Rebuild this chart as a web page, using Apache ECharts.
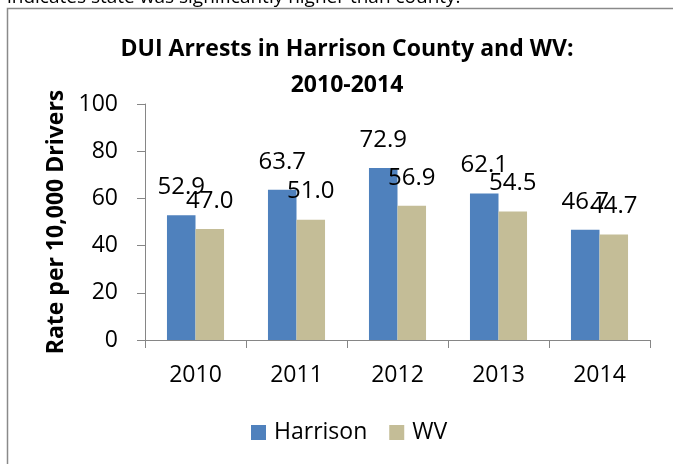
<!DOCTYPE html>
<html>
<head>
<meta charset="utf-8">
<script src="https://cdn.jsdelivr.net/npm/echarts@6/dist/echarts.min.js"></script>
<style>html,body{margin:0;padding:0;background:#fff}#c{width:673px;height:464px}</style>
</head>
<body>
<div id="c"></div>
<script>
var categories = ['2010', '2011', '2012', '2013', '2014'];
var harrison = [52.9, 63.7, 72.9, 62.1, 46.7];
var wv = [47.0, 51.0, 56.9, 54.5, 44.7];
var yTicks = [0, 20, 40, 60, 80, 100];
var titleLines = ['DUI Arrests in Harrison County and WV:', '2010-2014'];
var seriesNames = ['Harrison', 'WV'];

var FONT = 'Open Sans';
var chart = echarts.init(document.getElementById('c'));
var labelCfg = {
  show: true, position: 'top', distance: 16, color: '#000',
  fontFamily: FONT, fontSize: 24,
  formatter: function (p) { return p.value.toFixed(1); }
};
chart.setOption({
  animation: false,
  backgroundColor: '#fff',
  textStyle: { fontFamily: FONT },
  graphic: [
    { type: 'rect', shape: { x: 7.5, y: 8.5, width: 700, height: 500 }, style: { fill: 'none', stroke: '#8a8a8a', lineWidth: 1.5 } },
    { type: 'text', x: 7, y: 7, style: { text: 'indicates state was significantly higher than county.', fontFamily: FONT, fontSize: 19, fill: '#000', textVerticalAlign: 'bottom' } }
  ],
  title: {
    text: titleLines.join('\n'),
    left: 342, top: 26, textAlign: 'center',
    textStyle: { fontFamily: FONT, fontWeight: 'bold', fontSize: 23, lineHeight: 36, color: '#000' }
  },
  legend: {
    data: seriesNames, left: 246, top: 416,
    itemWidth: 15, itemHeight: 15, itemGap: 22, icon: 'rect',
    textStyle: { fontFamily: FONT, fontSize: 23, color: '#000', padding: [0, 0, 0, 3] }
  },
  grid: { left: 145, right: 23, top: 104, bottom: 124, containLabel: false },
  xAxis: {
    type: 'category', data: categories,
    axisLine: { lineStyle: { color: '#868686', width: 1 } },
    axisTick: { show: true, length: 8, lineStyle: { color: '#868686' } },
    axisLabel: { margin: 24, fontSize: 23, color: '#000', fontFamily: FONT }
  },
  yAxis: {
    type: 'value', min: yTicks[0], max: yTicks[yTicks.length - 1], interval: 20,
    name: 'Rate per 10,000 Drivers', nameLocation: 'middle', nameGap: 74,
    nameTextStyle: { fontFamily: FONT, fontWeight: 'bold', fontSize: 23, color: '#000' },
    axisLine: { show: true, lineStyle: { color: '#868686', width: 1 } },
    axisTick: { show: true, length: 8, lineStyle: { color: '#868686' } },
    splitLine: { show: false },
    axisLabel: { margin: 27, fontSize: 23, color: '#000', fontFamily: FONT }
  },
  series: [
    { name: seriesNames[0], type: 'bar', data: harrison, barGap: '0%', barCategoryGap: '43.5%',
      itemStyle: { color: '#4F81BD' }, label: labelCfg },
    { name: seriesNames[1], type: 'bar', data: wv,
      itemStyle: { color: '#C4BD97' }, label: labelCfg }
  ]
});
</script>
</body>
</html>
